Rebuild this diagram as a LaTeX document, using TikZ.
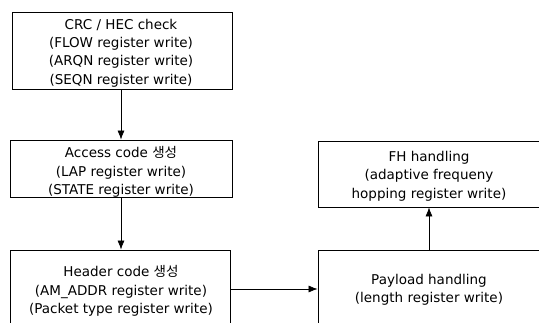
\documentclass[tikz,border=0pt]{standalone}
\usepackage{fontspec}
\setmainfont{DejaVu Sans}
\newfontfamily\kr{Noto Sans CJK KR}
\usetikzlibrary{arrows.meta}
\tikzset{
  box/.style={draw, line width=0.8pt, inner sep=0pt},
  txt/.style={align=center, inner sep=0pt, font=\fontsize{13.5}{18.3}\selectfont},
  conn/.style={draw, line width=0.7pt, -{Latex[length=9pt,width=7pt]}}
}
\begin{document}
\begin{tikzpicture}[x=1pt,y=-1pt]
\useasboundingbox (0,0) rectangle (539,323);
\clip (0,0) rectangle (539,323);
\node[box, minimum width=220pt, minimum height=77pt] (crc) at (122,50.5) {};
\node[txt] (crct) at (121,53)
  {CRC / HEC check\\(FLOW register write)\\(ARQN register write)\\(SEQN register write)};
\node[box, minimum width=222pt, minimum height=57pt] (acc) at (121,168.5) {};
\node[txt] (acct) at (121,172)
  {Access code {\kr 생성}\\(LAP register write)\\(STATE register write)};
\node[box, minimum width=220pt, minimum height=78pt] (hdr) at (120,289) {};
\node[txt] (hdrt) at (121,291)
  {Header code {\kr 생성}\\(AM\_ADDR register write)\\(Packet type register write)};
\node[box, minimum width=222pt, minimum height=78pt] (pay) at (429,289) {};
\node[txt] (payt) at (429,290)
  {Payload handling\\(length register write)};
\node[box, minimum width=222pt, minimum height=66pt] (fh) at (429,174) {};
\node[txt] (fht) at (429,176)
  {FH handling\\(adaptive frequeny\\hopping register write)};
\draw[conn] (crc.south -| 121,0) -- (acc.north);
\draw[conn] (acc.south) -- (acc.south |- hdr.north);
\draw[conn] (hdr.east) -- (pay.west);
\draw[conn] (pay.north) -- (fh.south);
\end{tikzpicture}
\end{document}
